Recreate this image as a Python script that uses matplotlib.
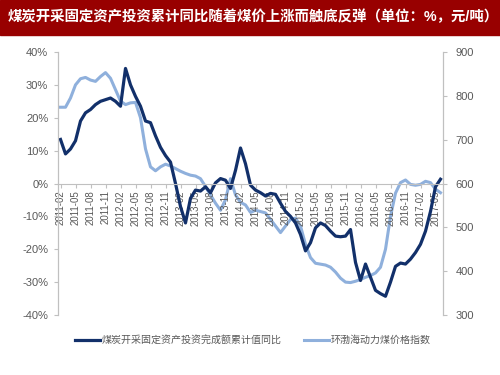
import numpy as np
import matplotlib
matplotlib.use("Agg")
import matplotlib.pyplot as plt

plt.rcParams['font.family'] = ['Liberation Sans', 'Noto Sans CJK SC', 'DejaVu Sans']
plt.rcParams['axes.unicode_minus'] = False

# monthly, 2011-02 .. 2017-06
months = []
for y in range(2011, 2018):
    for m in range(1, 13):
        if (y == 2011 and m < 2) or (y == 2017 and m > 6):
            continue
        months.append("%d-%02d" % (y, m))

# 煤炭开采固定资产投资完成额累计值同比 (%)
invest_yoy = [13.4, 9.0, 10.5, 13.0, 19.0, 21.5, 22.5, 24.0, 25.0, 25.5,
              26.0, 25.0, 23.5, 35.0, 30.0, 26.5, 23.5, 19.0, 18.5, 14.5,
              11.0, 8.5, 6.5, 0.0, -7.0, -12.0, -4.5, -2.0, -2.3, -1.0,
              -2.8, 0.2, 1.5, 1.0, -1.5, 4.0, 10.8, 6.0, -0.5, -2.0,
              -2.8, -3.8, -3.0, -3.3, -6.0, -8.5, -10.0, -12.0, -15.5, -20.5,
              -18.0, -13.5, -12.0, -12.8, -14.5, -16.0, -16.2, -16.0, -14.0, -24.0,
              -29.5, -24.5, -28.5, -32.5, -33.5, -34.3, -30.0, -25.2, -24.2, -24.5,
              -23.0, -21.0, -18.5, -14.5, -8.5, -1.0, 1.3]

# 环渤海动力煤价格指数 (元/吨)
coal_index = [774, 774, 795, 825, 839, 842, 836, 833, 844, 853,
              840, 814, 788, 780, 784, 785, 750, 679, 638, 629,
              638, 644, 640, 634, 628, 623, 619, 617, 611, 593,
              574, 555, 539, 563, 611, 574, 557, 551, 534, 539,
              536, 533, 518, 503, 488, 503, 518, 521, 503, 461,
              431, 418, 416, 414, 409, 398, 384, 375, 374, 377,
              381, 386, 390, 396, 409, 450, 525, 578, 602, 608,
              598, 596, 598, 605, 602, 587, 579]

title = "煤炭开采固定资产投资累计同比随着煤价上涨而触底反弹（单位：%，元/吨）"
label_invest = "煤炭开采固定资产投资完成额累计值同比"
label_coal = "环渤海动力煤价格指数"

dark = "#12306a"
light = "#8fb0dc"
grey = "#595959"
axis_grey = "#c0c0c0"

fig = plt.figure(figsize=(5, 3.75), dpi=100)

# title banner
fig.patches.append(plt.Rectangle((0, 1 - 35 / 375), 1, 35 / 375, transform=fig.transFigure,
                                 color="#980000", zorder=0))
fig.text(0.016, 1 - 17 / 375, title, color="white", fontsize=10.4, fontweight="bold",
         va="center", ha="left")

ax = fig.add_axes([58 / 500, 60 / 375, 385 / 500, 263 / 375])
ax2 = ax.twinx()
ax.set_zorder(ax2.get_zorder() + 1)
ax.patch.set_visible(False)

# spines first: moving a spine resets its axis ticks
for a in (ax, ax2):
    for s in a.spines.values():
        s.set_color(axis_grey)
    a.spines['top'].set_visible(False)
ax.spines['bottom'].set_position(('data', 0))
ax2.spines['bottom'].set_visible(False)

x = np.arange(len(months))
ax2.plot(x, coal_index, color=light, lw=2.2, label=label_coal)
ax.plot(x, invest_yoy, color=dark, lw=2.3, label=label_invest)

ax.set_xlim(-0.5, len(months) - 0.5)
ax.set_ylim(-40, 40)
ax2.set_ylim(300, 900)

ax.set_yticks(np.arange(-40, 41, 10))
ax.set_yticklabels(["%d%%" % v for v in np.arange(-40, 41, 10)])
ax2.set_yticks(np.arange(300, 901, 100))

ax.set_xticks(x[::3])
ax.set_xticklabels(months[::3], rotation=90, fontsize=7, color=grey, va="top")

ax.tick_params(axis='x', length=3, color=axis_grey, pad=2)
ax.tick_params(axis='y', length=3, color=axis_grey, labelsize=8, labelcolor=grey, pad=4)
ax2.tick_params(axis='y', length=3, color=axis_grey, labelsize=8, labelcolor=grey, pad=6)

h1, l1 = ax.get_legend_handles_labels()
h2, l2 = ax2.get_legend_handles_labels()
fig.legend(h1 + h2, l1 + l2, loc="center", bbox_to_anchor=(0.505, 1 - 340 / 375), ncol=2,
           frameon=False, fontsize=7.2, labelcolor=grey, handlelength=2.5,
           handletextpad=0.2, columnspacing=2.2)

fig.savefig("out.png", dpi=100, facecolor="white")
